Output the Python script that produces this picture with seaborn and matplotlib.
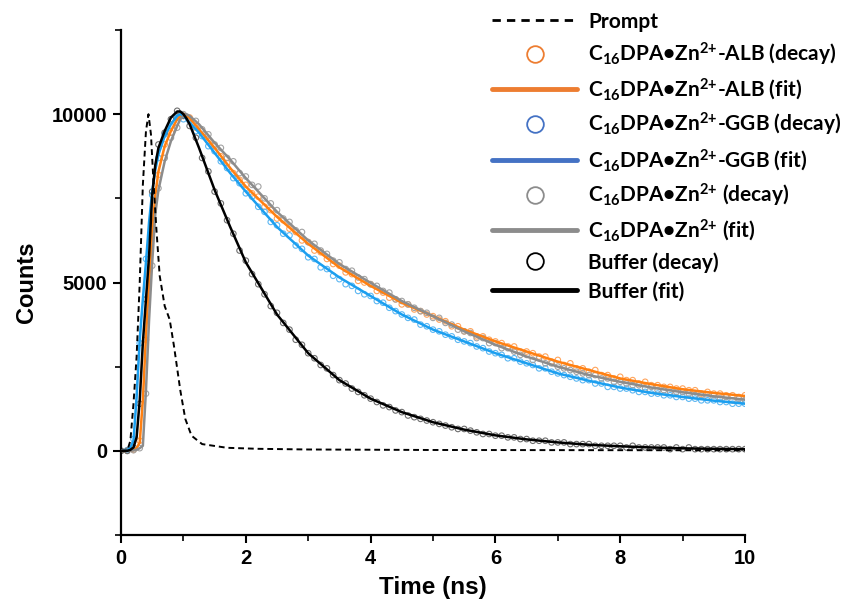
import matplotlib
matplotlib.use("Agg")
import matplotlib.pyplot as plt
from matplotlib.lines import Line2D
import seaborn as sns

# ---------------- data ----------------
t_prompt = [0, 0.1, 0.15, 0.2, 0.25, 0.3, 0.35, 0.4, 0.44, 0.48, 0.52, 0.57, 0.62,
            0.7, 0.78, 0.85, 0.95, 1.03, 1.13, 1.3, 1.7, 2.2, 3.0, 5.0, 10.0]
prompt = [0, 0, 300, 1400, 2800, 5000, 7900, 9500, 10000, 9400, 8000, 6500, 5200,
          4300, 3900, 3100, 1800, 950, 450, 200, 90, 60, 40, 25, 15]

t_fit = [0, 0.1, 0.15, 0.2, 0.25, 0.3, 0.35, 0.4, 0.45, 0.5, 0.55, 0.6, 0.7, 0.8,
         0.9, 0.95, 1.0, 1.05, 1.1, 1.25, 1.5, 1.75, 2.0, 2.5, 3.0, 3.5, 4.0, 4.5,
         5.0, 5.5, 6.0, 6.5, 7.0, 7.5, 8.0, 8.5, 9.0, 9.5, 10.0]
fit_alb = [0, 0, 5, 20, 80, 250, 1500, 3400, 5000, 6500, 7600, 8300, 9050, 9500,
           9850, 9950, 10000, 9950, 9880, 9550, 9000, 8400, 7850, 6950, 6150, 5450,
           4900, 4400, 4000, 3600, 3250, 2950, 2650, 2400, 2150, 1980, 1830, 1720, 1630]
fit_ggb = [0, 20, 100, 300, 1600, 3300, 4500, 5600, 6800, 7700, 8350, 8800, 9350,
           9700, 9950, 10000, 9950, 9850, 9750, 9450, 8850, 8250, 7700, 6650, 5800,
           5150, 4600, 4050, 3600, 3250, 2900, 2600, 2300, 2080, 1880, 1720, 1600, 1490, 1400]
fit_zn = [0, 0, 5, 10, 30, 80, 150, 1800, 3900, 5600, 7050, 7750, 8600, 9200, 9650,
          9850, 9950, 10000, 9950, 9700, 9150, 8650, 8100, 7100, 6250, 5550, 4990,
          4450, 4000, 3550, 3150, 2800, 2500, 2250, 2050, 1880, 1740, 1620, 1520]
fit_buf = [0, 0, 30, 100, 400, 1500, 3200, 4500, 5800, 7600, 8500, 9000, 9500, 9900,
           10080, 10080, 10000, 9870, 9700, 9000, 7750, 6650, 5600, 4050, 2900, 2100,
           1550, 1150, 850, 630, 460, 340, 250, 180, 135, 100, 75, 60, 50]

t_decay = [0.0, 0.1, 0.2, 0.3, 0.4, 0.5, 0.6, 0.7, 0.8, 0.9,
           1.0, 1.1, 1.2, 1.3, 1.4, 1.5, 1.6, 1.7, 1.8, 1.9,
           2.0, 2.1, 2.2, 2.3, 2.4, 2.5, 2.6, 2.7, 2.8, 2.9,
           3.0, 3.1, 3.2, 3.3, 3.4, 3.5, 3.6, 3.7, 3.8, 3.9,
           4.0, 4.1, 4.2, 4.3, 4.4, 4.5, 4.6, 4.7, 4.8, 4.9,
           5.0, 5.1, 5.2, 5.3, 5.4, 5.5, 5.6, 5.7, 5.8, 5.9,
           6.0, 6.1, 6.2, 6.3, 6.4, 6.5, 6.6, 6.7, 6.8, 6.9,
           7.0, 7.1, 7.2, 7.3, 7.4, 7.5, 7.6, 7.7, 7.8, 7.9,
           8.0, 8.1, 8.2, 8.3, 8.4, 8.5, 8.6, 8.7, 8.8, 8.9,
           9.0, 9.1, 9.2, 9.3, 9.4, 9.5, 9.6, 9.7, 9.8, 9.9, 10.0]
decay_alb = [0, 10, 30, 300, 3300, 6600, 8200, 9100, 9450, 9900,
             9950, 9900, 9600, 9500, 9200, 9050, 8750, 8550, 8250, 8050,
             7900, 7650, 7550, 7250, 7150, 6900, 6850, 6600, 6500, 6250,
             6200, 5950, 5900, 5700, 5550, 5500, 5300, 5250, 5050, 5000,
             4950, 4750, 4700, 4550, 4500, 4350, 4350, 4200, 4150, 4050,
             4000, 3900, 3850, 3700, 3700, 3550, 3550, 3400, 3400, 3300,
             3250, 3200, 3100, 3100, 2950, 2950, 2900, 2800, 2800, 2650,
             2700, 2550, 2600, 2450, 2450, 2350, 2400, 2250, 2250, 2150,
             2200, 2100, 2100, 2000, 2050, 1950, 1950, 1900, 1900, 1850,
             1850, 1800, 1800, 1700, 1750, 1700, 1700, 1650, 1650, 1600, 1650]
decay_ggb = [0, 20, 350, 3200, 5700, 7600, 8700, 9400, 9650, 9900,
             9850, 9800, 9500, 9350, 9050, 8900, 8600, 8400, 8100, 7950,
             7650, 7550, 7250, 7100, 6800, 6700, 6450, 6400, 6100, 6000,
             5750, 5700, 5450, 5400, 5200, 5100, 4950, 4900, 4750, 4650,
             4600, 4450, 4400, 4250, 4150, 4050, 3950, 3900, 3750, 3700,
             3600, 3550, 3450, 3400, 3300, 3250, 3200, 3100, 3050, 2950,
             2900, 2850, 2750, 2750, 2650, 2600, 2550, 2450, 2450, 2350,
             2300, 2250, 2200, 2150, 2100, 2100, 2000, 2000, 1900, 1900,
             1850, 1850, 1800, 1750, 1750, 1700, 1700, 1650, 1650, 1600,
             1600, 1550, 1550, 1500, 1500, 1500, 1450, 1450, 1400, 1400, 1400]
decay_zn = [0, 0, 20, 80, 1700, 5500, 7800, 8700, 9300, 9600,
            10000, 9850, 9800, 9550, 9400, 9100, 9000, 8700, 8600, 8250,
            8150, 7900, 7850, 7500, 7350, 7150, 6900, 6800, 6550, 6500,
            6200, 6150, 5950, 5850, 5650, 5600, 5400, 5350, 5150, 5100,
            4950, 4900, 4750, 4700, 4500, 4450, 4350, 4250, 4150, 4100,
            3950, 3950, 3800, 3750, 3600, 3550, 3500, 3350, 3350, 3200,
            3200, 3050, 3050, 2950, 2850, 2850, 2700, 2750, 2600, 2600,
            2500, 2450, 2400, 2350, 2300, 2250, 2250, 2150, 2150, 2050,
            2050, 2000, 1950, 1950, 1850, 1900, 1800, 1800, 1750, 1750,
            1750, 1700, 1650, 1650, 1600, 1650, 1550, 1600, 1500, 1550, 1500]
decay_buf = [0, 0, 100, 1400, 4500, 7700, 9100, 9450, 9850, 10100,
             9950, 9650, 9300, 8700, 8300, 7700, 7350, 6850, 6450, 5950,
             5650, 5250, 4950, 4650, 4300, 4100, 3800, 3600, 3300, 3150,
             2900, 2750, 2550, 2450, 2250, 2100, 2000, 1850, 1750, 1650,
             1550, 1450, 1350, 1300, 1200, 1150, 1050, 1000, 950, 900,
             850, 800, 750, 700, 650, 650, 600, 550, 500, 500,
             450, 450, 400, 400, 350, 350, 300, 300, 300, 250,
             250, 250, 200, 200, 200, 200, 150, 150, 150, 150,
             150, 100, 150, 100, 100, 100, 100, 100, 50, 100,
             50, 100, 50, 50, 50, 50, 50, 50, 50, 50, 50]

x_ticks = [0, 2, 4, 6, 8, 10]
y_ticks = [0, 5000, 10000]

labels = ["Prompt",
          r"C$_{16}$DPA•Zn$^{2{+}}$-ALB (decay)",
          r"C$_{16}$DPA•Zn$^{2{+}}$-ALB (fit)",
          r"C$_{16}$DPA•Zn$^{2{+}}$-GGB (decay)",
          r"C$_{16}$DPA•Zn$^{2{+}}$-GGB (fit)",
          r"C$_{16}$DPA•Zn$^{2{+}}$ (decay)",
          r"C$_{16}$DPA•Zn$^{2{+}}$ (fit)",
          "Buffer (decay)",
          "Buffer (fit)"]

# ---------------- style ----------------
sns.set_style("ticks")
plt.rcParams["font.family"] = ["Liberation Sans", "DejaVu Sans"]
plt.rcParams["mathtext.fontset"] = "custom"
plt.rcParams["mathtext.rm"] = "Lato:bold"
plt.rcParams["mathtext.it"] = "Lato:bold"
plt.rcParams["mathtext.bf"] = "Lato:bold"
for k in ["text.color", "axes.labelcolor", "xtick.color", "ytick.color", "axes.edgecolor"]:
    plt.rcParams[k] = "black"

fig = plt.figure(figsize=(8.57, 6.05), dpi=100)
ax = fig.add_axes([0.1412, 0.1157, 0.7281, 0.8347])

dec_cols = ["#FFA45C", "#5DB7F2", "#A3A3A3", "#6E6E6E"]
fit_cols = ["#FF8011", "#1B9FF0", "#8C8C8C", "#000000"]

for vals, c in zip([decay_alb, decay_ggb, decay_zn, decay_buf], dec_cols):
    sns.scatterplot(x=t_decay, y=vals, ax=ax, marker="o", s=16,
                    facecolor="none", edgecolor=c, linewidth=0.8, zorder=2)

for vals, c in zip([fit_alb, fit_ggb, fit_zn, fit_buf], fit_cols):
    sns.lineplot(x=t_fit, y=vals, ax=ax, color=c, lw=1.8, sort=False,
                 estimator=None, zorder=3)

sns.lineplot(x=t_prompt, y=prompt, ax=ax, color="black", lw=1.4, sort=False,
             estimator=None, zorder=4, linestyle=(0, (3, 2)))

ax.set_xlim(0, 10)
ax.set_ylim(-2500, 12500)
ax.set_xticks(x_ticks)
ax.set_yticks(y_ticks)
ax.set_xticks([1, 3, 5, 7, 9], minor=True)
ax.set_yticks([-2500, 2500, 7500, 12500], minor=True)
for s in ["top", "right"]:
    ax.spines[s].set_visible(False)
for s in ["left", "bottom"]:
    ax.spines[s].set_linewidth(1.6)
ax.tick_params(which="major", length=6, width=1.5, direction="out", labelsize=14.5, pad=4)
ax.tick_params(which="minor", length=4, width=1.2, direction="out")
for lab in ax.get_xticklabels() + ax.get_yticklabels():
    lab.set_fontweight("bold")
ax.set_xlabel("Time (ns)", fontsize=17.5, fontweight="bold", labelpad=6)
ax.set_ylabel("Counts", fontsize=17, fontweight="bold", labelpad=10)

# legend (colours as in the reference legend)
handles = [
    Line2D([], [], color="black", lw=2, linestyle=(0, (3, 2.2))),
    Line2D([], [], ls="none", marker="o", ms=12, mfc="none", mec="#ED7D31", mew=1.3),
    Line2D([], [], color="#ED7D31", lw=3.5),
    Line2D([], [], ls="none", marker="o", ms=12, mfc="none", mec="#4472C4", mew=1.3),
    Line2D([], [], color="#4472C4", lw=3.5),
    Line2D([], [], ls="none", marker="o", ms=12, mfc="none", mec="#8C8C8C", mew=1.3),
    Line2D([], [], color="#8C8C8C", lw=3.5),
    Line2D([], [], ls="none", marker="o", ms=12, mfc="none", mec="black", mew=1.3),
    Line2D([], [], color="black", lw=3.5),
]
leg = fig.legend(handles, labels, loc="upper left", bbox_to_anchor=(0.562, 0.998),
                 frameon=False, handlelength=4.1, handletextpad=0.5,
                 labelspacing=0.42, borderpad=0.0,
                 prop={"family": ["Lato", "DejaVu Sans"], "weight": "bold", "size": 15})

fig.savefig("out.png", dpi=100)
